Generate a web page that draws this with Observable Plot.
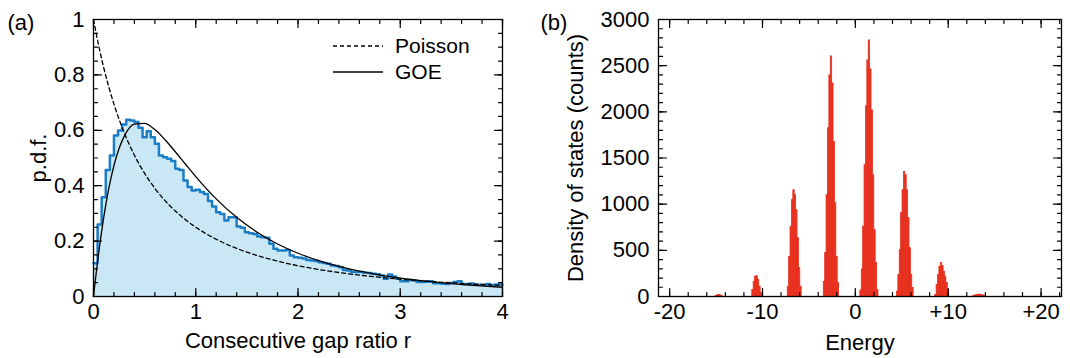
<!DOCTYPE html>
<html><head><meta charset="utf-8">
<script src="https://cdn.jsdelivr.net/npm/d3@7"></script>
<script src="https://cdn.jsdelivr.net/npm/@observablehq/plot@0.6"></script>
<style>
body{margin:0;background:#fff;font-family:"Liberation Sans",Arial,sans-serif;}
#wrap{position:relative;width:1070px;height:358px;overflow:hidden;background:#fff;}
#a,#b{position:absolute;top:0;}
#a{left:0;} #b{left:540px;}
#legend{position:absolute;left:330px;top:33px;font-size:21px;color:#000;}
#legend div{display:flex;align-items:center;height:26px;}
#legend svg{margin-right:10px;}
</style></head>
<body><div id="wrap"><div id="a"></div><div id="b"></div>
<div id="legend">
  <div><svg width="55" height="10"><line x1="3" y1="5" x2="53" y2="5" stroke="#000" stroke-width="1.3" stroke-dasharray="4,3"/></svg><span>Poisson</span></div>
  <div><svg width="55" height="10"><line x1="3" y1="5" x2="53" y2="5" stroke="#000" stroke-width="1.3"/></svg><span>GOE</span></div>
</div>
</div>
<script>
// ---------- Panel (a): consecutive gap ratio histogram ----------
const gapBinWidth = 0.04;
const gapPdf = [
  0.12, 0.26, 0.358, 0.457, 0.509, 0.581, 0.599, 0.621, 0.638, 0.635,
  0.63, 0.609, 0.575, 0.597, 0.575, 0.551, 0.509, 0.503, 0.497, 0.489,
  0.461, 0.457, 0.419, 0.395, 0.383, 0.385, 0.377, 0.37, 0.345, 0.325,
  0.304, 0.298, 0.274, 0.286, 0.286, 0.253, 0.248, 0.232, 0.228, 0.226,
  0.217, 0.214, 0.212, 0.19, 0.172, 0.166, 0.166, 0.168, 0.148, 0.142,
  0.14, 0.137, 0.132, 0.13, 0.128, 0.124, 0.121, 0.118, 0.112, 0.11,
  0.106, 0.096, 0.094, 0.088, 0.088, 0.088, 0.086, 0.085, 0.082, 0.08,
  0.076, 0.064, 0.079, 0.072, 0.064, 0.055, 0.055, 0.06, 0.058, 0.052,
  0.052, 0.053, 0.055, 0.048, 0.048, 0.046, 0.045, 0.049, 0.052, 0.055,
  0.045, 0.045, 0.047, 0.042, 0.042, 0.042, 0.045, 0.04, 0.043, 0.043
];
const curveR     = [0, 0.05, 0.1, 0.15, 0.2, 0.25, 0.3, 0.4, 0.5, 0.6, 0.7, 0.8, 0.9, 1.0, 1.2, 1.4, 1.6, 1.8, 2.0, 2.25, 2.5, 2.75, 3.0, 3.25, 3.5, 3.75, 4.0];
const poissonPdf = [1, 0.907, 0.8264, 0.7561, 0.6944, 0.64, 0.5917, 0.5102, 0.4444, 0.3906, 0.346, 0.3086, 0.277, 0.25, 0.2066, 0.1736, 0.1479, 0.1276, 0.1111, 0.0947, 0.0816, 0.0711, 0.0625, 0.0554, 0.0494, 0.0443, 0.04];
const goePdf     = [0, 0.1559, 0.286, 0.391, 0.473, 0.534, 0.578, 0.622, 0.6248, 0.6025, 0.5658, 0.5226, 0.4774, 0.433, 0.3525, 0.2857, 0.2322, 0.1897, 0.1562, 0.1239, 0.0995, 0.0809, 0.0665, 0.0552, 0.0463, 0.0392, 0.0334];
const gapXTicks  = [0, 1, 2, 3, 4];
const gapXLabels = ["0", "1", "2", "3", "4"];
const gapYTicks  = [0, 0.2, 0.4, 0.6, 0.8, 1];
const gapYLabels = ["0", "0.2", "0.4", "0.6", "0.8", "1"];

// ---------- Panel (b): density of states ----------
const dosBinWidth = 0.15;
const dosPeakStart = [-15.05, -11.1, -7.28, -3.40, 0.54, 4.48, 8.6, 12.7];
const dosPeakCounts = [
  [6, 12, 16, 12, 6],
  [70, 160, 214, 220, 178, 106, 38],
  [106, 430, 755, 1043, 1151, 1097, 935, 632, 308, 106],
  [157, 473, 1097, 1822, 2395, 2600, 2308, 1673, 1011, 430, 146],
  [65, 292, 757, 1422, 2059, 2557, 2773, 2460, 2016, 1313, 719, 362, 70],
  [52, 232, 502, 903, 1151, 1349, 1314, 1151, 849, 524, 232, 92],
  [16, 124, 232, 322, 362, 330, 268, 214, 146, 70],
  [6, 10, 14, 18, 20, 18, 14, 10, 6]
];
const eTicks  = [-20, -10, 0, 10, 20];
const eLabels = ["-20", "-10", "0", "+10", "+20"];
const dosYTicks  = [0, 500, 1000, 1500, 2000, 2500, 3000];
const dosYLabels = ["0", "500", "1000", "1500", "2000", "2500", "3000"];

const FONT = "Liberation Sans, Arial, sans-serif";
const fmt = (ticks, labels) => d => { const i = ticks.findIndex(t => Math.abs(t - d) < 1e-9); return i >= 0 ? labels[i] : ""; };

// build data tables
const histPts = gapPdf.map((v, i) => ({x: i * gapBinWidth, y: v}));
histPts.push({x: gapPdf.length * gapBinWidth, y: gapPdf[gapPdf.length - 1]});
const curvePts = curveR.map((r, i) => ({r, poisson: poissonPdf[i], goe: goePdf[i]}));

const dosBins = [];
dosPeakCounts.forEach((counts, p) => counts.forEach((c, i) => {
  const x1 = dosPeakStart[p] + i * dosBinWidth;
  dosBins.push({x1, x2: x1 + dosBinWidth, y: c});
}));

// inward tick marks drawn as vectors anchored on the frame
const tickShape = {draw(ctx, l) { ctx.moveTo(0, 0); ctx.lineTo(0, -l); }};
const rot = {bottom: 0, top: 180, left: 90, right: 270};
function inTicks(values, channel, side, len) {
  return Plot.vector(values, {[channel]: d => d, frameAnchor: side, length: len, rotate: rot[side],
    anchor: "start", shape: tickShape, stroke: "#000", strokeWidth: 1.2});
}
function boxTicks(xMinor, xMajor, yMinor, yMajor) {
  const out = [];
  for (const s of ["bottom", "top"]) { out.push(inTicks(xMinor, "x", s, 4)); out.push(inTicks(xMajor, "x", s, 8)); }
  for (const s of ["left", "right"]) { out.push(inTicks(yMinor, "y", s, 4)); out.push(inTicks(yMajor, "y", s, 8)); }
  return out;
}

const left = Plot.plot({
  width: 530, height: 358,
  marginLeft: 93, marginRight: 28, marginTop: 19, marginBottom: 62,
  x: {domain: [0, 4]},
  y: {domain: [0, 1]},
  style: {fontFamily: FONT, fontSize: "22px", color: "#000", background: "#fff", overflow: "visible"},
  marks: [
    Plot.areaY(histPts, {x: "x", y: "y", curve: "step-after", fill: "#c9e7f4"}),
    Plot.lineY(histPts, {x: "x", y: "y", curve: "step-after", stroke: "#1b7dc6", strokeWidth: 2.5}),
    Plot.lineY(curvePts, {x: "r", y: "poisson", curve: "monotone-x", stroke: "#000", strokeWidth: 1.3, strokeDasharray: "4,3"}),
    Plot.lineY(curvePts, {x: "r", y: "goe", curve: "monotone-x", stroke: "#000", strokeWidth: 1.3}),
    Plot.frame({stroke: "#000", strokeWidth: 1.3}),
    ...boxTicks(d3.range(0, 4.0001, 0.2), gapXTicks, d3.range(0, 1.0001, 0.05), gapYTicks),
    Plot.axisX({anchor: "bottom", ticks: gapXTicks, tickFormat: fmt(gapXTicks, gapXLabels), tickSize: 0, tickPadding: 7, label: null, fontSize: 22}),
    Plot.axisY({anchor: "left", ticks: gapYTicks, tickFormat: fmt(gapYTicks, gapYLabels), tickSize: 0, tickPadding: 9, label: null, fontSize: 22}),
    Plot.text(["Consecutive gap ratio r"], {frameAnchor: "bottom", lineAnchor: "middle", dy: 44, fontSize: 22}),
    Plot.text(["p.d.f."], {frameAnchor: "left", textAnchor: "middle", dx: -55, rotate: -90, fontSize: 22}),
    Plot.text(["(a)"], {frameAnchor: "top-left", textAnchor: "start", dx: -86, dy: -5, fontSize: 22})
  ]
});
document.getElementById("a").appendChild(left);

const right = Plot.plot({
  width: 530, height: 358,
  marginLeft: 118, marginRight: 9, marginTop: 19, marginBottom: 62,
  x: {domain: [-21.2, 22.2]},
  y: {domain: [0, 3000]},
  style: {fontFamily: FONT, fontSize: "22px", color: "#000", background: "#fff", overflow: "visible"},
  marks: [
    Plot.rectY(dosBins, {x1: "x1", x2: "x2", y: "y", fill: "#e8301e", stroke: "#e8301e", strokeWidth: 0.8}),
    Plot.frame({stroke: "#000", strokeWidth: 1.3}),
    ...boxTicks(d3.range(-20, 22.001, 2), eTicks, d3.range(0, 3000.1, 100), dosYTicks),
    Plot.axisX({anchor: "bottom", ticks: eTicks, tickFormat: fmt(eTicks, eLabels), tickSize: 0, tickPadding: 7, label: null, fontSize: 22}),
    Plot.axisY({anchor: "left", ticks: dosYTicks, tickFormat: fmt(dosYTicks, dosYLabels), tickSize: 0, tickPadding: 9, label: null, fontSize: 22}),
    Plot.text(["Energy"], {frameAnchor: "bottom", lineAnchor: "middle", dy: 46, fontSize: 22}),
    Plot.text(["Density of states (counts)"], {frameAnchor: "left", textAnchor: "middle", dx: -83, rotate: -90, fontSize: 22}),
    Plot.text(["(b)"], {frameAnchor: "top-left", textAnchor: "start", dx: -118, dy: -5, fontSize: 22})
  ]
});
document.getElementById("b").appendChild(right);
</script>
</body></html>
